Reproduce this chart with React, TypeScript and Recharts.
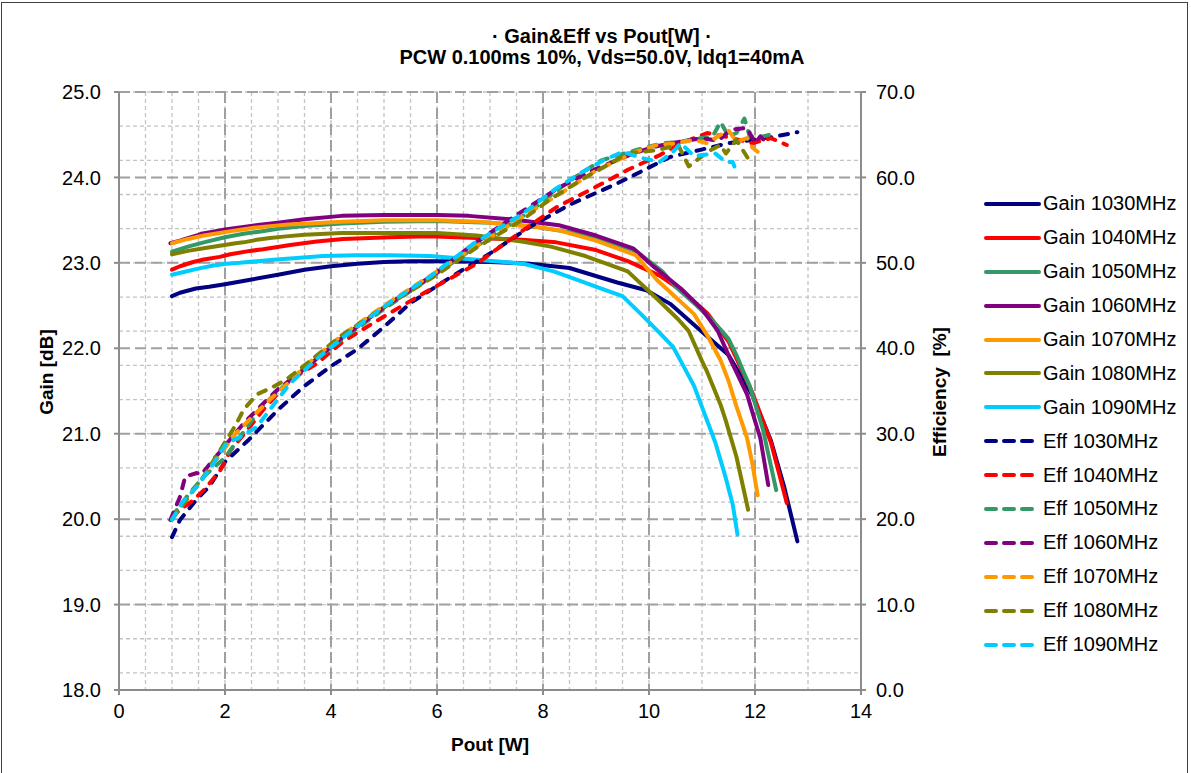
import React from "react";
import { LineChart, Line, XAxis, YAxis, CartesianGrid } from "recharts";

// Pout [W], Gain [dB], Efficiency [%] per frequency
const pout1030 = [1.0, 1.15, 1.45, 1.7, 2.0, 2.45, 3.0, 3.5, 4.0, 4.5, 5.0, 5.5, 6.2, 7.0, 7.75, 8.5, 9.4, 9.95, 10.4, 10.95, 11.5, 11.95, 12.3, 12.55, 12.8];
const gain1030 = [22.61, 22.65, 22.7, 22.72, 22.75, 22.8, 22.86, 22.92, 22.96, 22.99, 23.01, 23.02, 23.02, 23.01, 22.99, 22.94, 22.77, 22.68, 22.52, 22.22, 21.92, 21.45, 20.92, 20.38, 19.74];
const eff1030 = [17.9, 19.9, 22.2, 23.8, 26.7, 29.3, 32.8, 35.6, 37.9, 39.9, 42.5, 45.3, 48.1, 51.1, 54.2, 56.8, 59.3, 61.0, 62.4, 63.2, 64.0, 64.4, 64.7, 65.0, 65.3];

const pout1040 = [1.0, 1.15, 1.4, 1.6, 1.9, 2.1, 2.47, 2.72, 3.23, 3.73, 4.23, 5.1, 5.85, 6.75, 7.6, 8.25, 9.0, 9.6, 10.2, 10.6, 11.1, 11.5, 11.95, 12.3, 12.6];
const gain1040 = [22.92, 22.96, 23.01, 23.04, 23.07, 23.1, 23.14, 23.16, 23.21, 23.25, 23.28, 23.3, 23.31, 23.29, 23.27, 23.24, 23.15, 23.02, 22.85, 22.68, 22.41, 22.08, 21.48, 20.9, 20.19];
const eff1040 = [20.2, 21.1, 22.2, 23.4, 25.6, 28.0, 30.8, 32.8, 36.3, 38.2, 40.8, 44.1, 46.8, 49.9, 53.7, 56.5, 58.9, 60.9, 62.6, 64.0, 65.2, 64.7, 64.0, 64.6, 63.8];

const pout1050 = [1.0, 1.3, 1.6, 2.0, 2.35, 2.7, 3.0, 3.5, 4.2, 5.0, 6.0, 7.0, 7.75, 8.5, 9.1, 9.75, 10.25, 10.5, 10.9, 11.2, 11.35, 11.5, 11.65, 11.8, 11.9, 12.15, 12.4];
const gain1050 = [23.13, 23.19, 23.24, 23.3, 23.34, 23.37, 23.4, 23.43, 23.46, 23.48, 23.49, 23.47, 23.43, 23.36, 23.27, 23.14, 22.9, 22.72, 22.5, 22.32, 22.22, 22.11, 21.92, 21.7, 21.56, 21.05, 20.34];
const eff1050 = [20.3, 22.8, 25.0, 27.2, 30.2, 33.2, 35.0, 37.6, 41.0, 44.6, 48.8, 53.0, 56.0, 59.6, 62.0, 63.2, 64.0, 64.1, 64.5, 64.8, 66.5, 64.8, 65.2, 66.9, 64.8, 64.8, 65.2];

const pout1060 = [0.97, 1.15, 1.25, 1.47, 1.55, 1.72, 2.0, 2.35, 2.7, 3.0, 3.5, 4.2, 5.0, 6.0, 6.6, 7.4, 8.3, 9.0, 9.7, 10.1, 10.6, 11.0, 11.3, 11.55, 11.85, 12.0, 12.1, 12.25];
const gain1060 = [23.23, 23.26, 23.28, 23.32, 23.34, 23.36, 23.39, 23.42, 23.45, 23.47, 23.51, 23.55, 23.56, 23.56, 23.55, 23.51, 23.44, 23.32, 23.17, 22.95, 22.7, 22.46, 22.2, 21.85, 21.46, 21.15, 20.95, 20.4];
const eff1060 = [19.9, 22.6, 25.0, 25.4, 25.2, 26.5, 28.6, 31.2, 33.4, 35.2, 37.6, 41.2, 44.8, 48.9, 51.8, 55.2, 58.8, 61.0, 62.8, 63.6, 64.2, 64.6, 64.3, 65.6, 65.8, 64.0, 64.8, 63.8];

const pout1070 = [1.0, 1.3, 1.6, 1.9, 2.2, 2.55, 2.85, 3.2, 3.6, 4.2, 5.0, 6.0, 6.8, 7.9, 8.3, 9.0, 9.75, 10.15, 10.5, 10.85, 11.1, 11.35, 11.5, 11.65, 11.85, 11.95, 12.05];
const gain1070 = [23.23, 23.28, 23.32, 23.35, 23.38, 23.41, 23.43, 23.45, 23.46, 23.48, 23.5, 23.5, 23.48, 23.42, 23.38, 23.26, 23.09, 22.8, 22.6, 22.4, 22.15, 21.86, 21.62, 21.32, 20.95, 20.65, 20.28];
const eff1070 = [20.0, 22.5, 25.0, 27.5, 30.0, 32.2, 34.0, 36.0, 38.4, 41.5, 45.0, 49.0, 52.2, 56.5, 58.0, 60.8, 63.0, 63.8, 64.0, 64.4, 64.0, 65.0, 65.5, 64.2, 64.6, 63.5, 63.0];

const pout1080 = [1.0, 1.3, 1.6, 1.9, 2.2, 2.35, 2.6, 2.85, 3.15, 3.5, 4.2, 5.0, 6.0, 6.75, 7.6, 8.15, 8.8, 9.6, 10.15, 10.55, 10.75, 11.0, 11.1, 11.35, 11.45, 11.65, 11.75, 11.87];
const gain1080 = [23.1, 23.14, 23.17, 23.2, 23.23, 23.24, 23.27, 23.29, 23.31, 23.33, 23.35, 23.35, 23.35, 23.32, 23.25, 23.19, 23.08, 22.9, 22.58, 22.34, 22.2, 21.85, 21.72, 21.34, 21.15, 20.73, 20.45, 20.11];
const eff1080 = [20.0, 22.5, 25.0, 28.0, 31.0, 32.8, 34.6, 35.3, 36.3, 38.0, 41.5, 44.8, 48.6, 51.8, 55.0, 57.5, 60.0, 62.8, 63.2, 63.8, 61.3, 62.5, 63.0, 63.8, 62.8, 64.4, 63.4, 62.2];

const pout1090 = [1.0, 1.2, 1.47, 1.78, 2.03, 2.28, 2.6, 2.98, 3.23, 3.85, 4.48, 5.1, 5.87, 6.7, 7.63, 8.2, 8.7, 9.14, 9.5, 9.85, 10.2, 10.45, 10.6, 10.85, 11.25, 11.45, 11.58, 11.67];
const gain1090 = [22.86, 22.89, 22.93, 22.97, 22.99, 23.0, 23.02, 23.04, 23.05, 23.08, 23.09, 23.09, 23.08, 23.04, 22.99, 22.9, 22.79, 22.69, 22.61, 22.4, 22.18, 22.02, 21.85, 21.56, 20.9, 20.48, 20.17, 19.82];
const eff1090 = [19.9, 22.0, 23.8, 26.5, 28.9, 29.6, 30.8, 33.9, 35.9, 39.4, 42.5, 45.3, 48.4, 52.3, 55.8, 58.5, 60.5, 62.0, 63.0, 62.3, 61.8, 63.0, 64.0, 62.5, 62.8, 61.8, 61.8, 60.3];

const xTicks = [0, 2, 4, 6, 8, 10, 12, 14];
const xMinorTicks = Array.from({ length: 29 }, (_, i) => i * 0.5);
const gainTicks = [18, 19, 20, 21, 22, 23, 24, 25];
const gainMinorTicks = Array.from({ length: 36 }, (_, i) => +(18 + i * 0.2).toFixed(1));
const effTicks = [0, 10, 20, 30, 40, 50, 60, 70];

const series = [
  { freq: "1030MHz", color: "#000080", pout: pout1030, gain: gain1030, eff: eff1030 },
  { freq: "1040MHz", color: "#FF0000", pout: pout1040, gain: gain1040, eff: eff1040 },
  { freq: "1050MHz", color: "#339966", pout: pout1050, gain: gain1050, eff: eff1050 },
  { freq: "1060MHz", color: "#800080", pout: pout1060, gain: gain1060, eff: eff1060 },
  { freq: "1070MHz", color: "#FF9900", pout: pout1070, gain: gain1070, eff: eff1070 },
  { freq: "1080MHz", color: "#808000", pout: pout1080, gain: gain1080, eff: eff1080 },
  { freq: "1090MHz", color: "#00CCFF", pout: pout1090, gain: gain1090, eff: eff1090 },
];

const FONT = "'Liberation Sans', Arial, sans-serif";
const DASH = "8 9";
const pts = (xs: number[], ys: number[]) => xs.map((x, i) => ({ x, y: ys[i] }));
const tickStyle = { fontSize: 20, fill: "#000", fontFamily: FONT };
const axisStroke = { stroke: "#8c8c8c", strokeWidth: 2 };

function Legend() {
  const rows = [
    ...series.map((s) => ({ label: `Gain ${s.freq}`, color: s.color, dashed: false })),
    ...series.map((s) => ({ label: `Eff ${s.freq}`, color: s.color, dashed: true })),
  ];
  return (
    <div style={{ position: "absolute", left: 983, top: 187 }}>
      {rows.map((r) => (
        <div key={r.label} style={{ height: 33.9, display: "flex", alignItems: "center" }}>
          <svg width={60} height={10}>
            <line
              x1={3}
              y1={5}
              x2={56}
              y2={5}
              stroke={r.color}
              strokeWidth={4}
              strokeLinecap="round"
              strokeDasharray={r.dashed ? "10 8" : undefined}
            />
          </svg>
          <span style={{ fontFamily: FONT, fontSize: 20, color: "#000", whiteSpace: "nowrap" }}>{r.label}</span>
        </div>
      ))}
    </div>
  );
}

const bold = { position: "absolute" as const, fontFamily: FONT, fontWeight: "bold" as const, fontSize: 19, whiteSpace: "nowrap" as const };

export default function App() {
  return (
    <div style={{ position: "absolute", left: 0, top: 0, width: 1191, height: 773, background: "#fff", overflow: "hidden" }}>
      <div style={{ position: "absolute", left: 1, top: 2, width: 1185, height: 800, border: "1.5px solid #404040" }} />
      <div style={{ position: "absolute", left: 0, width: 1204, top: 26, textAlign: "center", fontFamily: FONT, fontWeight: "bold", fontSize: 20, lineHeight: "21px" }}>
        · Gain&amp;Eff vs Pout[W] ·<br />
        PCW 0.100ms 10%, Vds=50.0V, Idq1=40mA
      </div>
      <div style={{ ...bold, left: 47, top: 372, transform: "translate(-50%, -50%) rotate(-90deg)" }}>Gain [dB]</div>
      <div style={{ ...bold, left: 940, top: 392, transform: "translate(-50%, -50%) rotate(-90deg)" }}>Efficiency&nbsp; [%]</div>
      <div style={{ ...bold, left: 490, top: 745, transform: "translate(-50%, -50%)" }}>Pout [W]</div>
      <div style={{ position: "absolute", left: 0, top: 0 }}>
        <LineChart width={1191} height={773} margin={{ top: 92, right: 270, bottom: 53, left: 59 }}>
          <XAxis
            xAxisId="x"
            type="number"
            dataKey="x"
            domain={[0, 14]}
            ticks={xTicks}
            allowDataOverflow
            height={30}
            tick={tickStyle}
            tickSize={5}
            tickMargin={9}
            axisLine={axisStroke}
            tickLine={axisStroke}
          />
          <YAxis
            yAxisId="g"
            type="number"
            domain={[18, 25]}
            ticks={gainTicks}
            allowDataOverflow
            width={60}
            tick={tickStyle}
            tickSize={5}
            tickMargin={13}
            tickFormatter={(v: number) => v.toFixed(1)}
            axisLine={axisStroke}
            tickLine={axisStroke}
          />
          <YAxis
            yAxisId="e"
            orientation="right"
            type="number"
            domain={[0, 70]}
            ticks={effTicks}
            allowDataOverflow
            width={60}
            tick={tickStyle}
            tickSize={5}
            tickMargin={10}
            tickFormatter={(v: number) => v.toFixed(1)}
            axisLine={axisStroke}
            tickLine={axisStroke}
          />
          <CartesianGrid
            xAxisId="x"
            yAxisId="g"
            stroke="#c4c4c4"
            strokeWidth={1.3}
            strokeDasharray="4 3"
            verticalValues={xMinorTicks}
            horizontalValues={gainMinorTicks}
          />
          <CartesianGrid xAxisId="x" yAxisId="g" stroke="#a0a0a0" strokeWidth={2} strokeDasharray="11 5" />
          {series.map((s) => (
            <Line
              key={`g${s.freq}`}
              xAxisId="x"
              yAxisId="g"
              data={pts(s.pout, s.gain)}
              dataKey="y"
              stroke={s.color}
              strokeWidth={4}
              strokeLinejoin="round"
              strokeLinecap="round"
              dot={false}
              activeDot={false}
              isAnimationActive={false}
            />
          ))}
          {series.map((s) => (
            <Line
              key={`e${s.freq}`}
              xAxisId="x"
              yAxisId="e"
              data={pts(s.pout, s.eff)}
              dataKey="y"
              stroke={s.color}
              strokeWidth={4}
              strokeDasharray={DASH}
              strokeLinejoin="round"
              strokeLinecap="round"
              dot={false}
              activeDot={false}
              isAnimationActive={false}
            />
          ))}
        </LineChart>
      </div>
      <Legend />
    </div>
  );
}
